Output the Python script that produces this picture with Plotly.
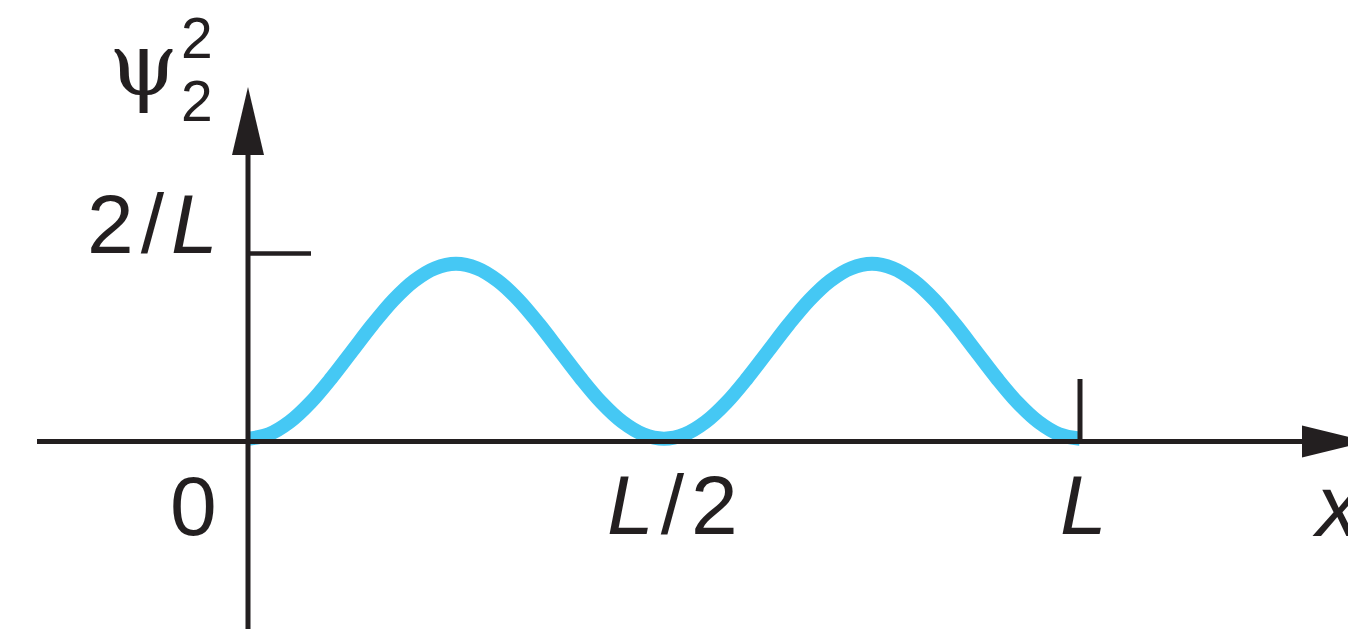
import plotly.graph_objects as go

# ---- data (x in units of L, y in units of 1/L) ----
x_vals = [i * 0.025 for i in range(41)]
psi2_sq = [0.03, 0.076, 0.208, 0.413, 0.673, 0.96, 1.247, 1.507, 1.712, 1.844, 1.89,
           1.844, 1.712, 1.507, 1.247, 0.96, 0.673, 0.413, 0.208, 0.076, 0.03,
           0.076, 0.208, 0.413, 0.673, 0.96, 1.247, 1.507, 1.712, 1.844, 1.89,
           1.844, 1.712, 1.507, 1.247, 0.96, 0.673, 0.413, 0.208, 0.076, 0.03]
x_tick_vals = [0.5, 1.0]
x_tick_text = ["<i>L</i>\u200a/\u200a2", "<i>L</i>"]
y_tick_val = 2.0
y_tick_text = "2\u200a/\u200a<i>L</i>"

W, H = 1348, 629
X0PX, XLPX = 248.0, 1080.0      # pixel of x=0 and x=L
Y0PX, YPERU = 441.5, 94.0       # pixel of y=0, pixels per unit


def px2x(px):
    return (px - X0PX) / (XLPX - X0PX)


def py2y(py):
    return (Y0PX - py) / YPERU


INK = "#231f20"
BLUE = "#45c8f4"
FONT = "Liberation Sans, Arial, Helvetica, sans-serif"
SERIF = "DejaVu Serif, Liberation Serif, serif"

fig = go.Figure()
fig.add_trace(go.Scatter(x=x_vals, y=psi2_sq, mode="lines",
                         line=dict(color=BLUE, width=14, shape="spline"),
                         hoverinfo="skip", showlegend=False))

shapes = []
# x axis line
shapes.append(dict(type="line", x0=px2x(37), x1=px2x(1304), y0=0, y1=0,
                   line=dict(color=INK, width=5)))
# y axis line
shapes.append(dict(type="line", x0=0, x1=0, y0=py2y(629), y1=py2y(153),
                   line=dict(color=INK, width=5)))
# arrowheads
shapes.append(dict(type="path",
                   path=f"M {px2x(1302)} {py2y(425.5)} L {px2x(1367)} 0 L {px2x(1302)} {py2y(457.5)} Z",
                   fillcolor=INK, line=dict(width=0)))
shapes.append(dict(type="path",
                   path=f"M {px2x(232)} {py2y(155)} L 0 {py2y(87)} L {px2x(264)} {py2y(155)} Z",
                   fillcolor=INK, line=dict(width=0)))
# 2/L tick
shapes.append(dict(type="line", x0=0, x1=px2x(311), y0=y_tick_val, y1=y_tick_val,
                   line=dict(color=INK, width=4.5)))
# L tick
shapes.append(dict(type="line", x0=x_tick_vals[1], x1=x_tick_vals[1], y0=0, y1=py2y(379),
                   line=dict(color=INK, width=5)))

MAIN = 84
ann = []
ann.append(dict(x=px2x(152), y=y_tick_val, text=y_tick_text, xanchor="center", yanchor="middle",
                yshift=30, showarrow=False, font=dict(family=FONT, size=MAIN, color=INK)))
ann.append(dict(x=px2x(193), y=py2y(506), text="0", xanchor="center", yanchor="middle",
                showarrow=False, font=dict(family=FONT, size=MAIN, color=INK)))
ann.append(dict(x=px2x(672), y=py2y(505), text=x_tick_text[0], xanchor="center", yanchor="middle",
                showarrow=False, font=dict(family=FONT, size=MAIN, color=INK)))
ann.append(dict(x=px2x(1083), y=py2y(505), text=x_tick_text[1], xanchor="center", yanchor="middle",
                showarrow=False, font=dict(family=FONT, size=MAIN, color=INK)))
ann.append(dict(x=px2x(1310), y=py2y(505), text="<i>x</i>", xanchor="left", yanchor="middle",
                showarrow=False, font=dict(family=FONT, size=MAIN + 4, color=INK)))
ann.append(dict(x=px2x(143), y=py2y(64), text="\u03c8", xanchor="center", yanchor="middle",
                showarrow=False, font=dict(family=SERIF, size=88, color=INK)))
ann.append(dict(x=px2x(197), y=py2y(38), text="2", xanchor="center", yanchor="middle",
                showarrow=False, font=dict(family=FONT, size=57, color=INK)))
ann.append(dict(x=px2x(197), y=py2y(101), text="2", xanchor="center", yanchor="middle",
                showarrow=False, font=dict(family=FONT, size=57, color=INK)))

fig.update_layout(
    width=W, height=H,
    margin=dict(l=0, r=0, t=0, b=0),
    paper_bgcolor="white", plot_bgcolor="white",
    xaxis=dict(range=[px2x(0), px2x(W)], visible=False, fixedrange=True),
    yaxis=dict(range=[py2y(H), py2y(0)], visible=False, fixedrange=True),
    shapes=shapes, annotations=ann, showlegend=False,
)

fig.write_html("out.html",
               config={"displayModeBar": False},
               post_script="document.body.style.margin='0';document.body.style.overflow='hidden';")
